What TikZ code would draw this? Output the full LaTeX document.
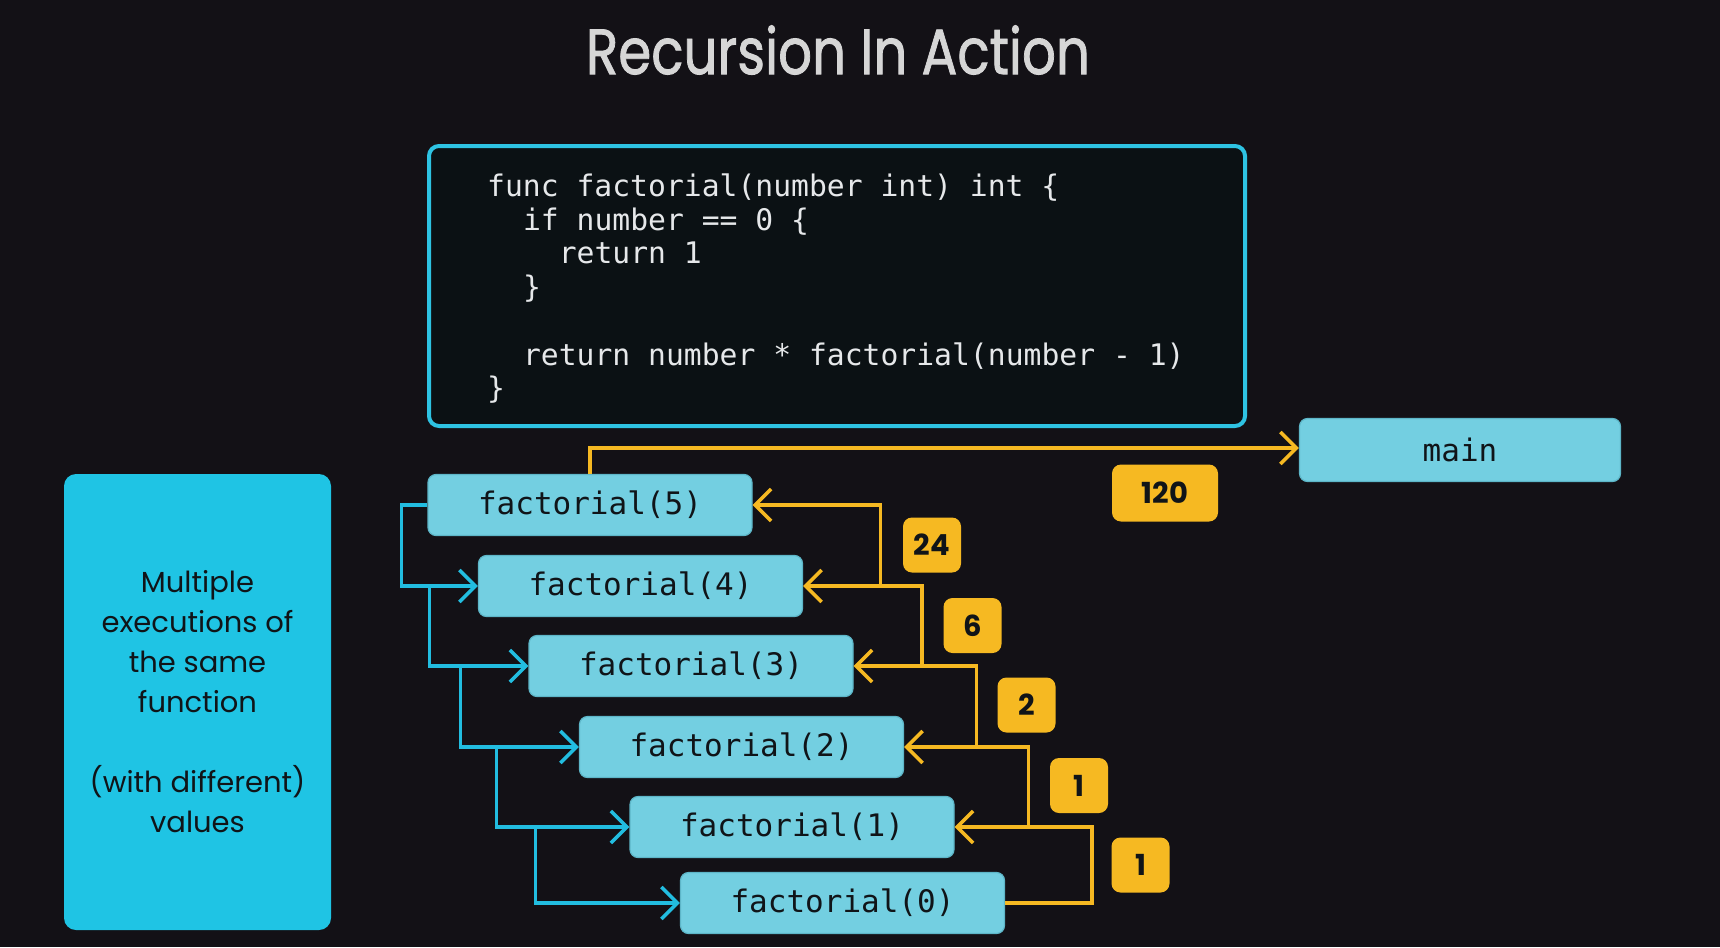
\documentclass[tikz,border=0pt]{standalone}
\usepackage{fontspec}
\usepackage{graphicx}
\usetikzlibrary{arrows.meta,calc}

\newfontfamily\codefont{DejaVu Sans Mono}
\newfontfamily\sansfont{Poppins}
\newfontfamily\headfont[FakeBold=1.4]{Poppins}

\definecolor{bgdark}{HTML}{131116}
\definecolor{codebg}{HTML}{0B1114}
\definecolor{codeedge}{HTML}{2EC3E3}
\definecolor{codeink}{HTML}{E6E8EA}
\definecolor{boxlight}{HTML}{73CFE1}
\definecolor{boxedge}{HTML}{5DB6C8}
\definecolor{notefill}{HTML}{1FC4E4}
\definecolor{gold}{HTML}{F6B922}
\definecolor{callblue}{HTML}{22BDE0}
\definecolor{inkdark}{HTML}{101418}
\definecolor{titlegray}{HTML}{D6D6D6}

\tikzset{
  frame/.style={rectangle, rounded corners=8pt, fill=boxlight, draw=boxedge,
    line width=1.2pt, minimum width=324pt, minimum height=61pt, inner sep=0pt,
    font=\codefont\fontsize{31}{31}\selectfont, text=inkdark},
  codeline/.style={anchor=base west, inner sep=0pt, text=codeink,
    font=\codefont\fontsize{29.7}{34}\selectfont},
  badge/.style={rectangle, rounded corners=9pt, fill=gold, minimum height=55pt,
    minimum width=58pt, inner sep=0pt, text=inkdark,
    font=\sansfont\bfseries\fontsize{29}{29}\selectfont},
  callarrow/.style={draw=callblue, line width=3.5pt,
    -{Straight Barb[length=16pt,width=32pt]}},
  retarrow/.style={draw=gold, line width=3.5pt,
    -{Straight Barb[length=16pt,width=32pt]}},
}

\begin{document}
\begin{tikzpicture}[x=1pt,y=-1pt]
  \fill[bgdark] (0,0) rectangle (1720,947);
  \useasboundingbox (0,0) rectangle (1720,947);

  % heading
  \node[font=\headfont\fontsize{64}{64}\selectfont, text=titlegray, inner sep=0pt]
    (title) at (838,50) {\scalebox{0.83}[1]{Recursion In Action}};

  % source listing
  \node[rectangle, rounded corners=10pt, fill=codebg, draw=codeedge, line width=4pt,
    minimum width=816pt, minimum height=280pt] (code) at (837,286) {};
  \node[codeline] (c1) at (487,196.5) {func factorial(number int) int \{};
  \node[codeline] (c2) at (522.8,230.2) {if number == 0 \{};
  \node[codeline] (c3) at (558.6,263.9) {return 1};
  \node[codeline] (c4) at (522.8,297.6) {\}};
  \node[codeline] (c6) at (522.8,365.0) {return number * factorial(number - 1)};
  \node[codeline] (c7) at (487,398.7) {\}};

  % side note
  \node[rectangle, rounded corners=12pt, fill=notefill, minimum width=267pt,
    minimum height=456pt, align=center, text=inkdark,
    font=\sansfont\fontsize{29}{40}\selectfont] (note) at (197.5,702)
    {Multiple\\executions of\\the same\\function\\[40pt](with different)\\values};

  % call frames
  \node[frame] (f5) at (590,505) {factorial(5)};
  \node[frame] (f4) at (640.5,586) {factorial(4)};
  \node[frame] (f3) at (691,666) {factorial(3)};
  \node[frame] (f2) at (741.5,747) {factorial(2)};
  \node[frame] (f1) at (792,827) {factorial(1)};
  \node[frame] (f0) at (842.5,903) {factorial(0)};
  \node[frame, minimum width=321pt, minimum height=63pt] (main) at (1460,450) {main};

  % returned values
  \node[badge, minimum width=106pt, minimum height=57pt] (v120) at (1165,493) {120};
  \node[badge] (v24) at (932,545) {24};
  \node[badge] (v6) at (972.5,625.5) {6};
  \node[badge] (v2) at (1026.5,705) {2};
  \node[badge] (v1a) at (1079,785.5) {1};
  \node[badge] (v1b) at (1140.5,865) {1};

  % calls going down
  \draw[callarrow] (f5.west) -- ++(-26,0) |- (f4.west);
  \draw[callarrow] ($(f4.west)+(-48.4,0)$) |- (f3.west);
  \draw[callarrow] ($(f3.west)+(-68,0)$) |- (f2.west);
  \draw[callarrow] ($(f2.west)+(-82.5,0)$) |- (f1.west);
  \draw[callarrow] ($(f1.west)+(-94,0)$) |- (f0.west);

  % results going back up
  \draw[retarrow] (f0.east) -- ++(87,0) |- (f1.east);
  \draw[retarrow] ($(f1.east)+(74,0)$) |- (f2.east);
  \draw[retarrow] ($(f2.east)+(72.5,0)$) |- (f3.east);
  \draw[retarrow] ($(f3.east)+(68.5,0)$) |- (f4.east);
  \draw[retarrow] ($(f4.east)+(77.5,0)$) |- (f5.east);
  \draw[retarrow] (f5.north) |- ($(main.west)+(0,-2)$);
\end{tikzpicture}
\end{document}
